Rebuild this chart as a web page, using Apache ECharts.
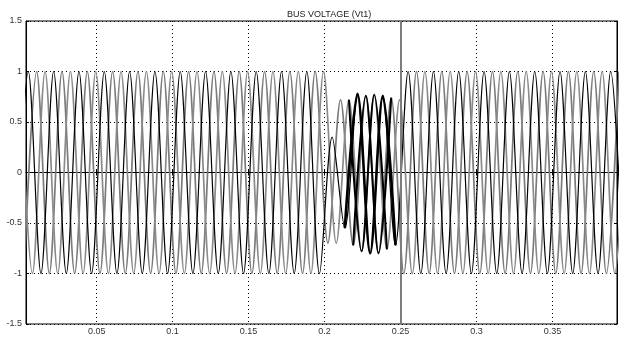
<!DOCTYPE html>
<html>
<head>
<meta charset="utf-8">
<script src="https://cdn.jsdelivr.net/npm/echarts@6/dist/echarts.min.js"></script>
<style>html,body{margin:0;padding:0;background:#fff;}#c{width:620px;height:342px;}</style>
</head>
<body>
<div id="c"></div>
<script>
// ---- data ----
const titleText = 'BUS VOLTAGE (Vt1)';
const xTicks = [0.05, 0.1, 0.15, 0.2, 0.25, 0.3, 0.35];
const yTicks = [-1.5, -1, -0.5, 0, 0.5, 1, 1.5];
const xRange = [0.0035, 0.3925];
// successive half-cycle extrema of each phase (60 Hz -> one extremum every 8.333 ms)
const halfPeriod = 0.008333;
const phaseAStart = -0.0033;
const phaseBStart = 0.0022;
const phaseCStart = -0.0006;
const phaseA = [-1,1,-1,1,-1,1,-1,1,-1,1,-1,1,-1,1,-1,1,-1,1,-1,1,-1,1,-1,1,-1,
  0.35,-0.55,0.78,-0.80,0.76,-0.72,
  1,-1,1,-1,1,-1,1,-1,1,-1,1,-1,1,-1,1,-1,1,-1];
const phaseB = [-1,1,-1,1,-1,1,-1,1,-1,1,-1,1,-1,1,-1,1,-1,1,-1,1,-1,1,-1,1,
  -0.70,0.72,-0.72,0.76,-0.80,0.74,
  -1,1,-1,1,-1,1,-1,1,-1,1,-1,1,-1,1,-1,1,-1,1];
const phaseC = [1,-1,1,-1,1,-1,1,-1,1,-1,1,-1,1,-1,1,-1,1,-1,1,-1,1,-1,1,-1,1,
  -0.70,0.72,-0.78,0.77,-0.76,0.72,
  -1,1,-1,1,-1,1,-1,1,-1,1,-1,1,-1,1,-1,1,-1,1];
// window where the traces look dense black during the sag
const denseWindow = [0.2125, 0.2475];
// full-height spike at recovery
const spikeTimes = [0.2518];

function toPoints(start, vals) {
  return vals.map((v, i) => [start + i * halfPeriod, v]);
}
const ptsA = toPoints(phaseAStart, phaseA);
const ptsB = toPoints(phaseBStart, phaseB);
const ptsC = toPoints(phaseCStart, phaseC);
const inDense = p => p[0] >= denseWindow[0] && p[0] <= denseWindow[1];

const font = 'Liberation Sans, Arial, sans-serif';
const gridDots = { color: '#000', width: 1, type: [1, 3] };

function lineSeries(data, color, width, z) {
  return {
    type: 'line', data: data, smooth: 0.32, symbol: 'none', showSymbol: false,
    lineStyle: { color: color, width: width }, z: z, clip: true, silent: true,
    animation: false
  };
}

const chart = echarts.init(document.getElementById('c'), null, { renderer: 'canvas' });
const spikeSeries = lineSeries([], '#888', 2, 5);
spikeSeries.markLine = {
  symbol: ['none', 'none'], silent: true, label: { show: false },
  lineStyle: { color: '#7d7d7d', width: 2, type: 'solid' },
  data: spikeTimes.map(t => ({ xAxis: t }))
};

chart.setOption({
  animation: false,
  backgroundColor: '#fff',
  title: {
    text: titleText, left: 282, top: 5,
    textStyle: { fontSize: 9, fontWeight: 'normal', color: '#222', fontFamily: font }
  },
  grid: { left: 26, right: 3, top: 21, bottom: 18, show: true, borderColor: '#000', borderWidth: 1, backgroundColor: '#fff' },
  xAxis: [{
    type: 'value', min: xRange[0], max: xRange[1],
    axisLine: { show: true, lineStyle: { color: '#000', width: 1 } },
    axisTick: { show: true, inside: true, length: 3, customValues: xTicks, lineStyle: { color: '#000' } },
    axisLabel: { customValues: xTicks, fontSize: 9, color: '#333', fontFamily: font, margin: 3,
      formatter: v => String(v) },
    splitLine: { show: true, lineStyle: gridDots }
  }, {
    type: 'value', position: 'top', min: xRange[0], max: xRange[1],
    axisLine: { show: true, lineStyle: { color: '#000', width: 1 } },
    axisTick: { show: true, inside: true, length: 3, customValues: xTicks, lineStyle: { color: '#000' } },
    axisLabel: { show: false, customValues: xTicks },
    splitLine: { show: false }
  }],
  yAxis: [{
    type: 'value', min: -1.5, max: 1.5, interval: 0.5,
    axisLine: { show: true, lineStyle: { color: '#000', width: 1 } },
    axisTick: { show: true, inside: true, length: 3, lineStyle: { color: '#000' } },
    axisLabel: { fontSize: 9, color: '#333', fontFamily: font, margin: 4,
      formatter: v => String(v) },
    splitLine: { show: true, lineStyle: gridDots }
  }, {
    type: 'value', position: 'right', min: -1.5, max: 1.5, interval: 0.5,
    axisLine: { show: true, lineStyle: { color: '#000', width: 1 } },
    axisTick: { show: true, inside: true, length: 3, lineStyle: { color: '#000' } },
    axisLabel: { show: false },
    splitLine: { show: false }
  }],
  series: [
    lineSeries(ptsB, '#7a7a7a', 1.7, 2),
    lineSeries(ptsC, '#8a8a8a', 1.7, 3),
    lineSeries(ptsA, '#000', 1.2, 4),
    spikeSeries,
    lineSeries(ptsB.filter(inDense), '#000', 2, 6),
    lineSeries(ptsC.filter(inDense), '#000', 2, 6),
    lineSeries(ptsA.filter(inDense), '#000', 2.6, 6)
  ]
});
</script>
</body>
</html>
